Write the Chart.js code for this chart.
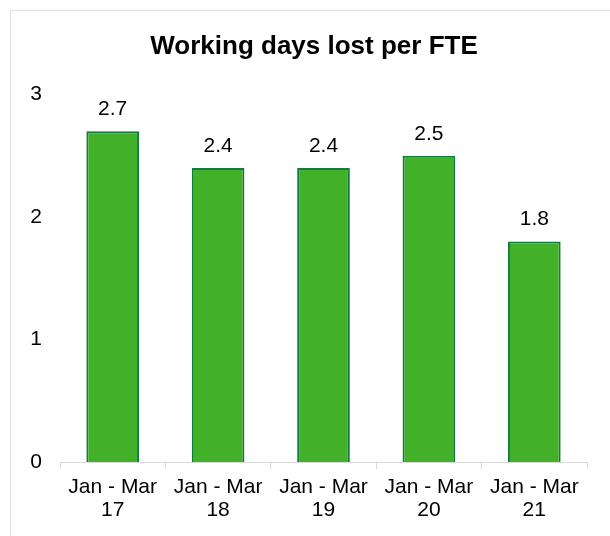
<!DOCTYPE html>
<html>
<head>
<meta charset="utf-8">
<script src="https://cdn.jsdelivr.net/npm/chart.js@4"></script>
<style>
  html, body { margin: 0; padding: 0; background: #fff; }
  #frame { position: absolute; left: 10px; top: 10px; width: 640px; height: 560px; border: 1px solid #dde1e6; box-sizing: border-box; }
  #wrap { position: absolute; left: 0; top: 0; width: 610px; height: 536px; }
</style>
</head>
<body>
<div id="frame"></div>
<div id="wrap"><canvas id="c" width="610" height="536"></canvas></div>
<script>
const categories = [["Jan - Mar", "17"], ["Jan - Mar", "18"], ["Jan - Mar", "19"], ["Jan - Mar", "20"], ["Jan - Mar", "21"]];
const values = [2.7, 2.4, 2.4, 2.5, 1.8];
const yTicks = [0, 1, 2, 3];
const titleText = "Working days lost per FTE";

const FONT = "'Liberation Sans', Arial, sans-serif";

const valueLabels = {
  id: 'valueLabels',
  afterDatasetsDraw(chart) {
    const ctx = chart.ctx;
    const meta = chart.getDatasetMeta(0);
    ctx.save();
    ctx.font = "21px " + FONT;
    ctx.fillStyle = "#000";
    ctx.textAlign = "center";
    ctx.textBaseline = "middle";
    meta.data.forEach((bar, i) => {
      ctx.fillText(values[i].toFixed(1), bar.x, bar.y - 22);
    });
    ctx.restore();
  }
};

const chartTitle = {
  id: 'chartTitle',
  afterDraw(chart) {
    const ctx = chart.ctx;
    ctx.save();
    ctx.font = "bold 26px " + FONT;
    ctx.fillStyle = "#000";
    ctx.textAlign = "center";
    ctx.textBaseline = "middle";
    ctx.fillText(titleText, 314, 47);
    ctx.restore();
  }
};

new Chart(document.getElementById('c'), {
  type: 'bar',
  data: {
    labels: categories,
    datasets: [{
      data: values,
      backgroundColor: '#43b02a',
      borderColor: '#117c3b',
      borderWidth: 2,
      barPercentage: 0.5,
      categoryPercentage: 1.0
    }]
  },
  options: {
    responsive: false,
    animation: false,
    layout: { padding: { left: 20, right: 23, top: 94.5, bottom: 0 } },
    plugins: {
      legend: { display: false },
      tooltip: { enabled: false },
      title: { display: false }
    },
    scales: {
      x: {
        grid: { display: true, drawOnChartArea: false, drawTicks: true, tickLength: 7, color: '#d9d9d9', offset: true },
        border: { display: true, color: '#d9d9d9', width: 1 },
        ticks: { color: '#000', font: { family: FONT, size: 21, lineHeight: 1.1 }, padding: 7, maxRotation: 0, autoSkip: false },
        afterFit(scale) { scale.height = 74; }
      },
      y: {
        min: 0, max: 3,
        afterBuildTicks(scale) { scale.ticks = yTicks.map(v => ({ value: v })); },
        grid: { display: false, drawTicks: false },
        border: { display: false },
        ticks: { color: '#000', font: { family: FONT, size: 21 }, padding: 18 },
        afterFit(scale) { scale.width = 40; }
      }
    }
  },
  plugins: [valueLabels, chartTitle]
});
</script>
</body>
</html>
